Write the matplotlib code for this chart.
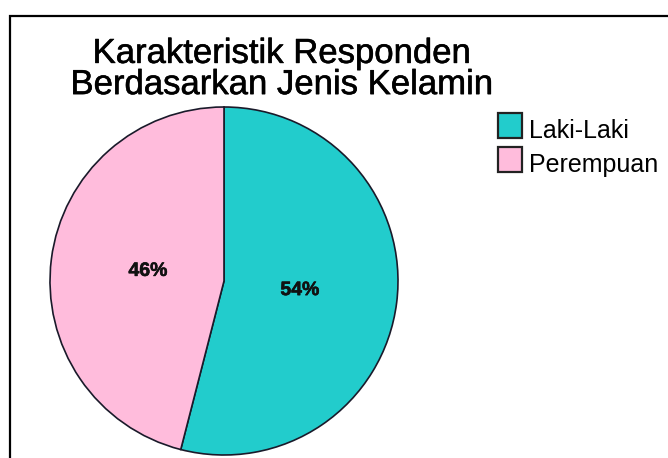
import matplotlib.pyplot as plt
import matplotlib.patheffects as pe
from matplotlib.patches import Rectangle

# Data
labels = ['Laki-Laki', 'Perempuan']
shares = [54, 46]
colors = ['#22CCCC', '#FFBCDC']
title = "Karakteristik Responden\nBerdasarkan Jenis Kelamin"

W, H = 668, 458
fig = plt.figure(figsize=(W / 100, H / 100), dpi=100)
plt.rcParams['font.family'] = ['Liberation Sans', 'DejaVu Sans']

# outer frame (runs off the right and bottom edges)
fig.patches.append(Rectangle((10 / W, -0.1), 1.2, 1 - 15.5 / H + 0.1,
                             transform=fig.transFigure, fill=False,
                             edgecolor='black', linewidth=1.6))

# pie axes: centre (224, 281) px, radius 174 px
cx, cy, r = 224, 281, 174
ax = fig.add_axes([(cx - r) / W, (H - cy - r) / H, 2 * r / W, 2 * r / H])
wedges, texts, autotexts = ax.pie(
    shares, colors=colors, startangle=90, counterclock=False,
    autopct='%d%%', pctdistance=0.44, radius=1,
    wedgeprops=dict(edgecolor='#1a1a2a', linewidth=1.2),
    textprops=dict(fontsize=14, fontweight='bold', color='#111111'))
for t in autotexts:
    t.set_path_effects([pe.withStroke(linewidth=0.4, foreground='#111111')])
ax.set_xlim(-1, 1)
ax.set_ylim(-1, 1)
ax.axis('off')

fig.text(282 / W, 1 - 69 / H, title, ha='center', va='center',
         fontsize=25, linespacing=0.93,
         path_effects=[pe.withStroke(linewidth=0.4, foreground='black')])

# legend
for i, (lab, col) in enumerate(zip(labels, colors)):
    top = 113 + i * 34
    fig.patches.append(Rectangle((498 / W, 1 - (top + 25) / H), 24 / W, 25 / H,
                                 transform=fig.transFigure, facecolor=col,
                                 edgecolor='#222222', linewidth=1.6))
    fig.text(529 / W, 1 - (138 + i * 34) / H, lab, ha='left', va='baseline',
             fontsize=18)

fig.savefig('out.png', dpi=100)
